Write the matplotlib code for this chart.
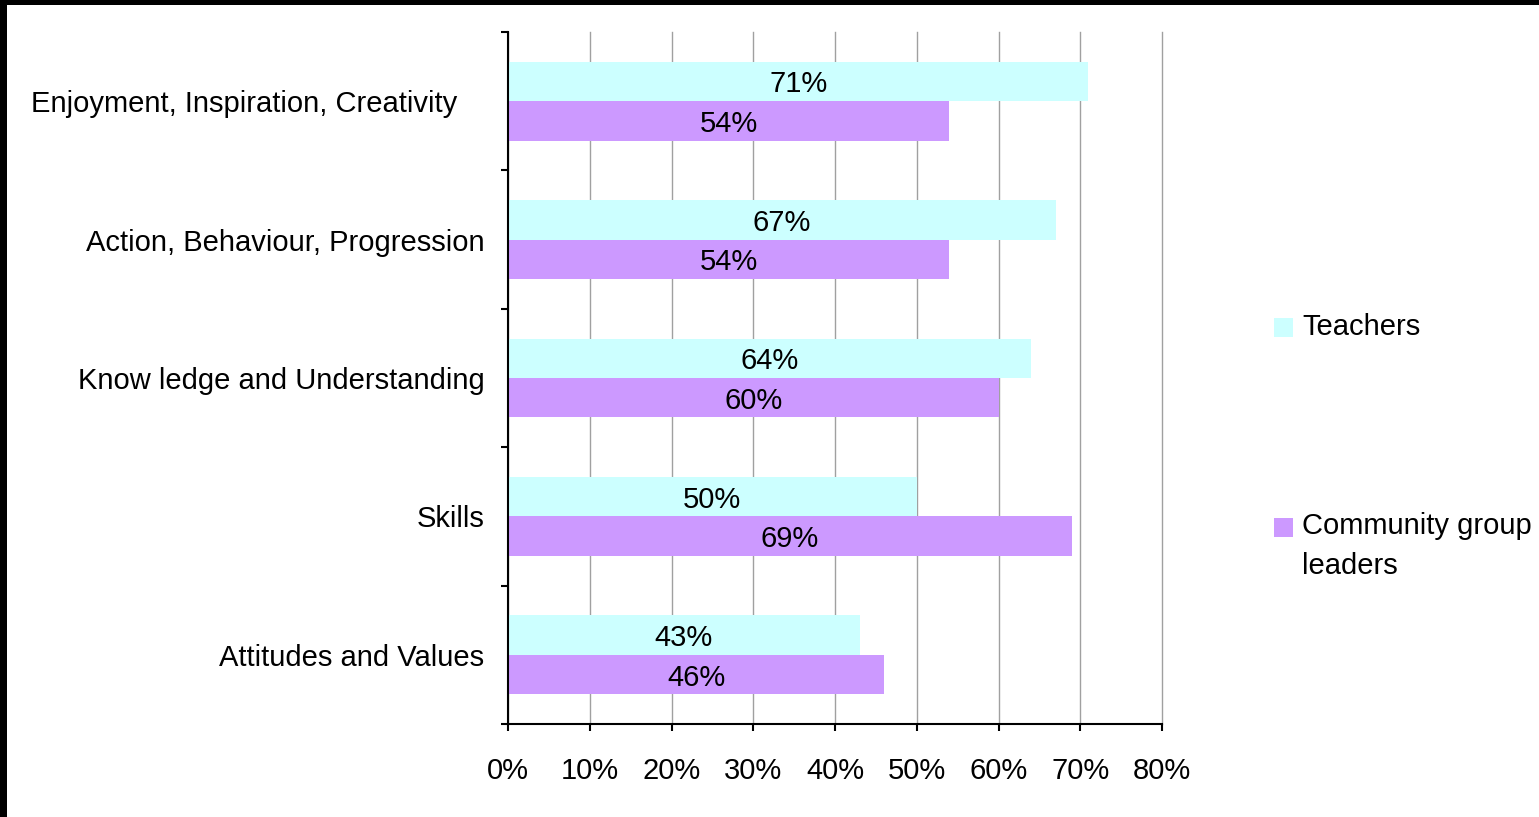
import matplotlib
matplotlib.use("Agg")
import matplotlib.pyplot as plt
from matplotlib.patches import Rectangle
from matplotlib.transforms import ScaledTranslation
import numpy as np

plt.rcParams['font.family'] = ['Liberation Sans', 'DejaVu Sans']

categories = ["Enjoyment, Inspiration, Creativity",
              "Action, Behaviour, Progression",
              "Know ledge and Understanding",
              "Skills",
              "Attitudes and Values"]
teachers = [71, 67, 64, 50, 43]
community = [54, 54, 60, 69, 46]
series_names = ["Teachers", "Community group\nleaders"]
xticks = [0, 10, 20, 30, 40, 50, 60, 70, 80]

col_teach = "#CCFFFF"
col_comm = "#CC99FF"
fs = 21

W, H = 1539, 817
fig = plt.figure(figsize=(W / 100, H / 100), dpi=100)
fig.patch.set_facecolor("white")

ax = fig.add_axes([508 / W, 1 - 724 / H, (1162 - 508) / W, (724 - 32) / H])

y = np.arange(len(categories))
h = 0.285
ax.barh(y - h / 2, teachers, height=h, color=col_teach, zorder=2)
ax.barh(y + h / 2, community, height=h, color=col_comm, zorder=2)

for yi, v in zip(y, teachers):
    ax.text(v / 2, yi - h / 2, f"{v}%", ha="center", va="center_baseline",
            fontsize=fs, zorder=3)
for yi, v in zip(y, community):
    ax.text(v / 2, yi + h / 2, f"{v}%", ha="center", va="center_baseline",
            fontsize=fs, zorder=3)

ax.set_xlim(0, 80)
ax.set_ylim(len(categories) - 0.5, -0.5)

ax.set_xticks(xticks)
ax.set_xticklabels([f"{t}%" for t in xticks], fontsize=fs)
ax.tick_params(axis="x", direction="out", length=5, width=1.5, pad=19)

# category boundary ticks as majors, labels on minors
ax.set_yticks(np.arange(-0.5, len(categories), 1.0))
ax.set_yticklabels([])
ax.set_yticks(y, minor=True)
ax.set_yticklabels(categories, minor=True, fontsize=fs)
ax.tick_params(axis="y", which="major", direction="out", length=5, width=1.5)
ax.tick_params(axis="y", which="minor", length=0, pad=17)

lbl0 = ax.get_yticklabels(minor=True)[0]
lbl0.set_transform(lbl0.get_transform() + ScaledTranslation(-27 / 100, 0, fig.dpi_scale_trans))

ax.grid(axis="x", color="#A0A0A0", linewidth=1.0, zorder=0)
for gl in ax.get_xgridlines():
    gl.set_clip_on(False)
ax.set_axisbelow(True)
for s in ["top", "right"]:
    ax.spines[s].set_visible(False)
for s in ["left", "bottom"]:
    ax.spines[s].set_linewidth(1.5)
    ax.spines[s].set_color("black")
    ax.spines[s].set_zorder(4)

# legend drawn in figure pixels
def fx(px):
    return px / W

def fy(py):
    return 1 - py / H

for (ytop, col, name, ytext) in [(318, col_teach, series_names[0], 327),
                                 (518, col_comm, series_names[1], 546)]:
    fig.patches.append(Rectangle((fx(1274), fy(ytop + 19)), 19 / W, 19 / H,
                                 transform=fig.transFigure, facecolor=col,
                                 edgecolor="none"))
    fig.text(fx(1302), fy(ytext), name, ha="left", va="center",
             fontsize=fs, linespacing=1.52)

# frame edges
fig.patches.append(Rectangle((0, fy(5)), 1, 5 / H, transform=fig.transFigure,
                             facecolor="black", edgecolor="none"))
fig.patches.append(Rectangle((0, 0), 7 / W, 1, transform=fig.transFigure,
                             facecolor="black", edgecolor="none"))

fig.savefig("out.png", dpi=100)
